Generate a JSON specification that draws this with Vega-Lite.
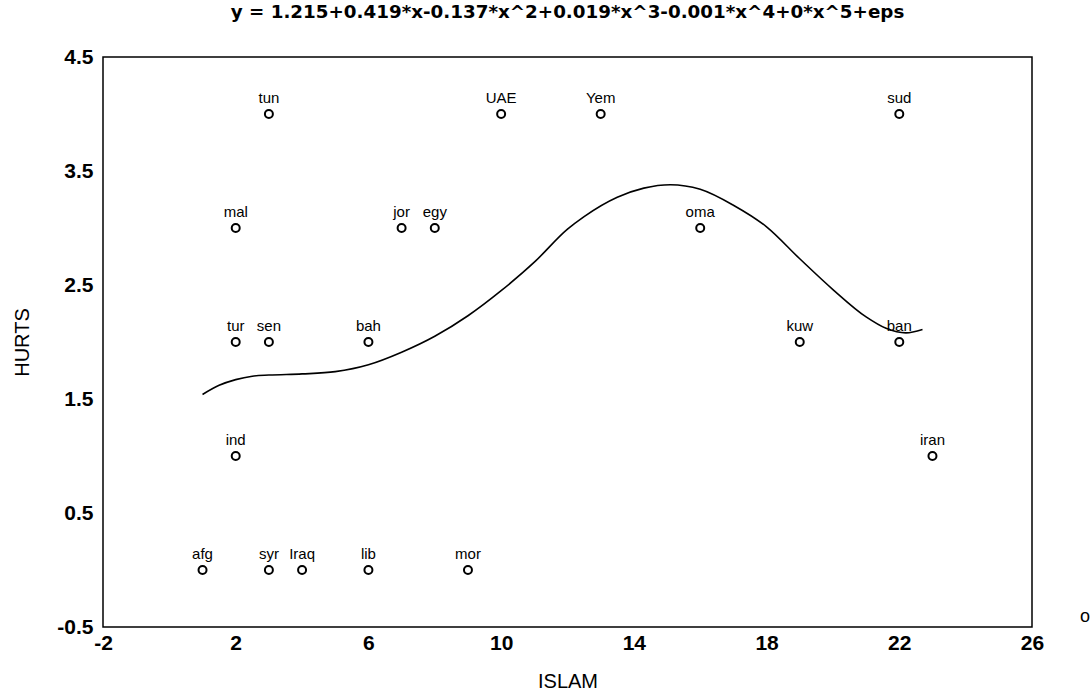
{
  "$schema": "https://vega.github.io/schema/vega-lite/v6.json",
  "autosize": "none",
  "width": 929,
  "height": 570,
  "padding": {"left": 103, "top": 57, "right": 59, "bottom": 69},
  "background": "white",
  "config": {
    "view": {"stroke": "black", "strokeWidth": 1.5},
    "font": "Liberation Sans"
  },
  "title": {
    "text": "y = 1.215+0.419*x-0.137*x^2+0.019*x^3-0.001*x^4+0*x^5+eps",
    "font": "DejaVu Sans",
    "fontSize": 18.3,
    "fontWeight": "bold",
    "color": "black",
    "anchor": "middle",
    "offset": 24
  },
  "datasets": {
    "pts": [
      {"ISLAM": 3, "HURTS": 4, "name": "tun"},
      {"ISLAM": 10, "HURTS": 4, "name": "UAE"},
      {"ISLAM": 13, "HURTS": 4, "name": "Yem"},
      {"ISLAM": 22, "HURTS": 4, "name": "sud"},
      {"ISLAM": 2, "HURTS": 3, "name": "mal"},
      {"ISLAM": 7, "HURTS": 3, "name": "jor"},
      {"ISLAM": 8, "HURTS": 3, "name": "egy"},
      {"ISLAM": 16, "HURTS": 3, "name": "oma"},
      {"ISLAM": 2, "HURTS": 2, "name": "tur"},
      {"ISLAM": 3, "HURTS": 2, "name": "sen"},
      {"ISLAM": 6, "HURTS": 2, "name": "bah"},
      {"ISLAM": 19, "HURTS": 2, "name": "kuw"},
      {"ISLAM": 22, "HURTS": 2, "name": "ban"},
      {"ISLAM": 2, "HURTS": 1, "name": "ind"},
      {"ISLAM": 23, "HURTS": 1, "name": "iran"},
      {"ISLAM": 1, "HURTS": 0, "name": "afg"},
      {"ISLAM": 3, "HURTS": 0, "name": "syr"},
      {"ISLAM": 4, "HURTS": 0, "name": "Iraq"},
      {"ISLAM": 6, "HURTS": 0, "name": "lib"},
      {"ISLAM": 9, "HURTS": 0, "name": "mor"}
    ],
    "curve": [
      {"x": 1.0, "y": 1.54},
      {"x": 1.5, "y": 1.62},
      {"x": 2.0, "y": 1.67},
      {"x": 2.5, "y": 1.70},
      {"x": 3.0, "y": 1.71},
      {"x": 4.0, "y": 1.72},
      {"x": 5.0, "y": 1.74},
      {"x": 6.0, "y": 1.80},
      {"x": 7.0, "y": 1.91},
      {"x": 8.0, "y": 2.05},
      {"x": 9.0, "y": 2.23},
      {"x": 10.0, "y": 2.45},
      {"x": 11.0, "y": 2.70},
      {"x": 12.0, "y": 2.99},
      {"x": 12.5, "y": 3.10},
      {"x": 13.5, "y": 3.27},
      {"x": 14.3, "y": 3.35},
      {"x": 15.1, "y": 3.38},
      {"x": 16.0, "y": 3.34},
      {"x": 17.0, "y": 3.20},
      {"x": 18.0, "y": 3.01},
      {"x": 19.0, "y": 2.73},
      {"x": 20.0, "y": 2.46},
      {"x": 21.0, "y": 2.22},
      {"x": 21.6, "y": 2.12},
      {"x": 22.2, "y": 2.08},
      {"x": 22.7, "y": 2.11}
    ],
    "stray": [
      {"ISLAM": 27.6, "HURTS": -0.41, "name": "o"}
    ]
  },
  "encoding": {},
  "layer": [
    {
      "data": {"name": "curve"},
      "mark": {"type": "line", "color": "black", "strokeWidth": 1.6, "interpolate": "monotone"},
      "encoding": {
        "x": {
          "field": "x", "type": "quantitative",
          "scale": {"domain": [-2, 26], "nice": false, "zero": false},
          "axis": {
            "values": [-2, 2, 6, 10, 14, 18, 22, 26],
            "labelExpr": "replace(datum.label, '−', '-')",
            "title": "ISLAM",
            "titleFont": "Liberation Sans",
            "titleFontSize": 20,
            "titleFontWeight": "normal",
            "titleColor": "black",
            "titlePadding": 18,
            "labelFont": "Liberation Sans",
            "labelFontSize": 21,
            "labelFontWeight": "bold",
            "labelColor": "black",
            "labelPadding": 5,
            "labelFlush": false,
            "grid": false,
            "domain": false,
            "ticks": false
          }
        },
        "y": {
          "field": "y", "type": "quantitative",
          "scale": {"domain": [-0.5, 4.5], "nice": false, "zero": false},
          "axis": {
            "values": [-0.5, 0.5, 1.5, 2.5, 3.5, 4.5],
            "format": ".1f",
            "labelExpr": "replace(datum.label, '−', '-')",
            "title": "HURTS",
            "titleFont": "Liberation Sans",
            "titleFontSize": 20,
            "titleFontWeight": "normal",
            "titleColor": "black",
            "titlePadding": 24,
            "labelFont": "Liberation Sans",
            "labelFontSize": 21,
            "labelFontWeight": "bold",
            "labelColor": "black",
            "labelPadding": 10,
            "labelFlush": false,
            "grid": false,
            "domain": false,
            "ticks": false
          }
        }
      }
    },
    {
      "data": {"name": "pts"},
      "mark": {"type": "point", "shape": "circle", "filled": false, "color": "black", "size": 64, "strokeWidth": 2, "opacity": 1},
      "encoding": {
        "x": {"field": "ISLAM", "type": "quantitative"},
        "y": {"field": "HURTS", "type": "quantitative"}
      }
    },
    {
      "data": {"name": "pts"},
      "mark": {"type": "text", "font": "Liberation Sans", "fontSize": 15, "color": "black", "align": "center", "baseline": "bottom", "dy": -8},
      "encoding": {
        "x": {"field": "ISLAM", "type": "quantitative"},
        "y": {"field": "HURTS", "type": "quantitative"},
        "text": {"field": "name", "type": "nominal"}
      }
    },
    {
      "data": {"name": "stray"},
      "mark": {"type": "text", "font": "Liberation Sans", "fontSize": 18, "color": "black", "align": "center", "baseline": "middle"},
      "encoding": {
        "x": {"field": "ISLAM", "type": "quantitative"},
        "y": {"field": "HURTS", "type": "quantitative"},
        "text": {"field": "name", "type": "nominal"}
      }
    }
  ]
}
